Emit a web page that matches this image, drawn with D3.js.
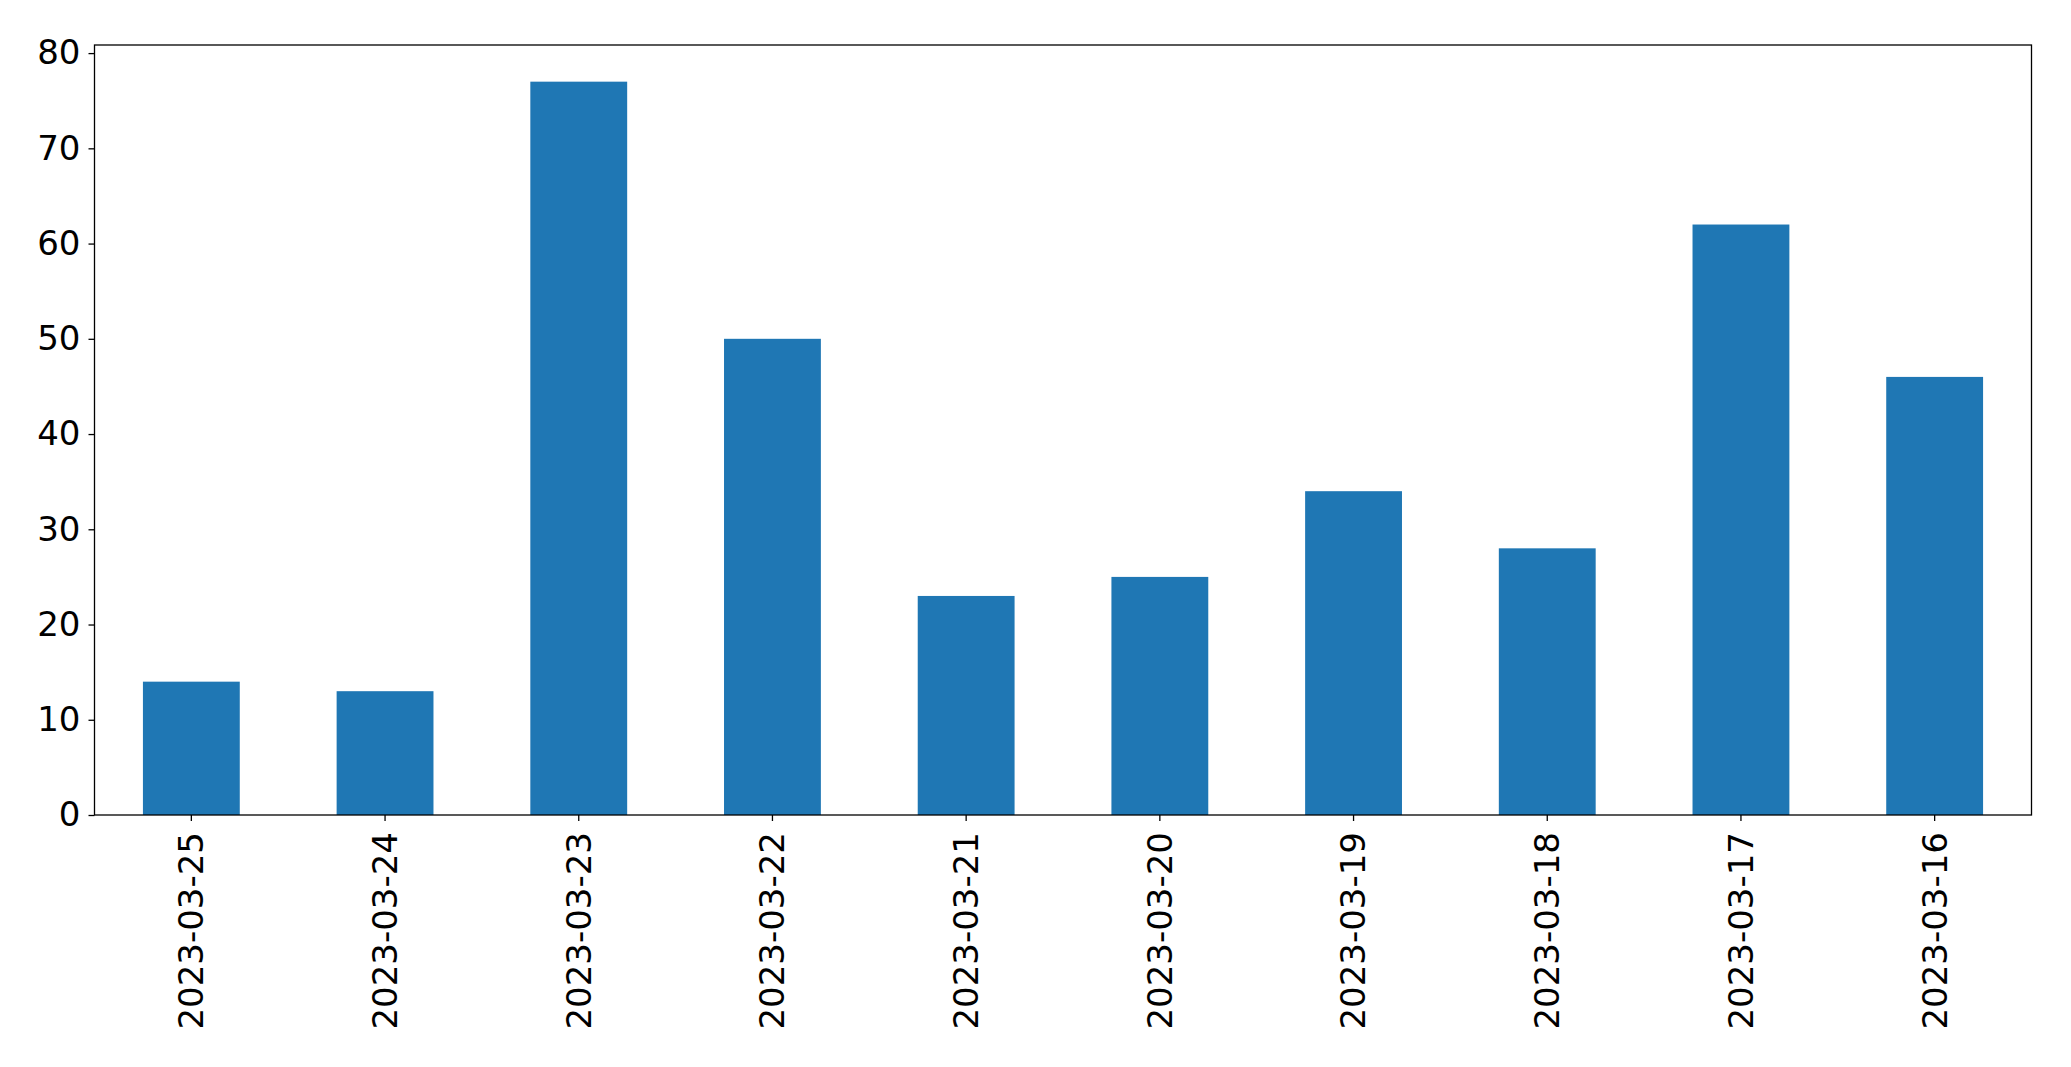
<!DOCTYPE html>
<html>
<head>
<meta charset="utf-8">
<script src="https://cdn.jsdelivr.net/npm/d3@7"></script>
<style>
  html, body { margin: 0; padding: 0; background: #fff; }
  svg { display: block; }
</style>
</head>
<body>
<svg id="chart" width="2071" height="1067"></svg>
<script>
const categories = ["2023-03-25","2023-03-24","2023-03-23","2023-03-22","2023-03-21","2023-03-20","2023-03-19","2023-03-18","2023-03-17","2023-03-16"];
const values = [14, 13, 77, 50, 23, 25, 34, 28, 62, 46];
const yTicks = [0, 10, 20, 30, 40, 50, 60, 70, 80];

(function () {
const svg = d3.select("#chart");
const mLeft = 94.5, mRight = 2031.5, mTop = 45, mBottom = 815;

const x = d3.scaleBand().domain(categories).range([mLeft, mRight]).paddingInner(0.5).paddingOuter(0.25);
const ymax = d3.max(values) * 1.05;
const y = d3.scaleLinear().domain([0, ymax]).range([mBottom, mTop]);

svg.append("g").selectAll("rect").data(values).join("rect")
  .attr("x", (d, i) => x(categories[i]))
  .attr("y", d => y(d))
  .attr("width", x.bandwidth())
  .attr("height", d => y(0) - y(d))
  .attr("fill", "#1f77b4");

const font = "DejaVu Sans, sans-serif";

const yAxis = svg.append("g").attr("transform", `translate(${mLeft},0)`)
  .call(d3.axisLeft(y).tickValues(yTicks).tickSize(6).tickPadding(8).tickFormat(d3.format("d")));
yAxis.select(".domain").remove();
yAxis.selectAll("line").attr("stroke", "#000").attr("stroke-width", 1.3);
yAxis.selectAll("text").attr("font-family", font).attr("font-size", 34).attr("fill", "#000");

const xAxis = svg.append("g").attr("transform", `translate(0,${mBottom})`)
  .call(d3.axisBottom(x).tickSize(6).tickPadding(0));
xAxis.select(".domain").remove();
xAxis.selectAll("line").attr("stroke", "#000").attr("stroke-width", 1.3);
xAxis.selectAll("text")
  .attr("font-family", font).attr("font-size", 34).attr("fill", "#000")
  .attr("transform", "translate(0,17) rotate(-90)")
  .attr("text-anchor", "end")
  .attr("x", 0).attr("y", 0)
  .attr("dy", "0.35em");

svg.append("rect")
  .attr("x", mLeft).attr("y", mTop)
  .attr("width", mRight - mLeft).attr("height", mBottom - mTop)
  .attr("fill", "none").attr("stroke", "#000").attr("stroke-width", 1.3);
})();
</script>
</body>
</html>
